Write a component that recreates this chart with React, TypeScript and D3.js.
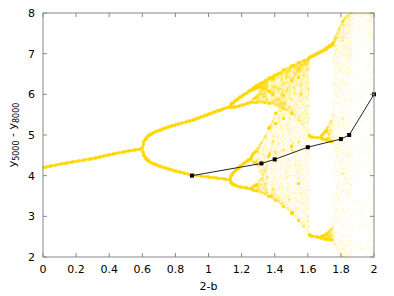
import React, { useMemo } from "react";
import * as d3 from "d3";

const W = 394;
const H = 296;
const PL = 43, PR = 374, PT = 13, PB = 257;

// x axis: 2-b ; y axis: y5000 - y8000
const xTicks = [0, 0.2, 0.4, 0.6, 0.8, 1, 1.2, 1.4, 1.6, 1.8, 2];
const yTicks = [2, 3, 4, 5, 6, 7, 8];

// parameter knots of the iterated map along 2-b
const knotC = [0, 0.3, 0.6, 0.64, 0.9, 1.13, 1.3, 1.61, 1.7, 1.75, 1.8, 1.85, 1.9, 2.0];
const knotR = [2.222, 2.53, 3.0, 3.06, 3.28, 3.449, 3.575, 3.8284, 3.845, 3.857, 3.9, 3.93, 3.97, 4.0];
const knotA = [2.0, 2.0, 2.0, 2.02, 2.08, 1.97, 2.0, 1.175, 1.133, 1.163, 1.045, 1.32, 2.0, 2.0];
const knotB = [4.0, 4.0, 4.0, 4.0, 4.0, 4.39, 4.74, 9.121, 9.649, 9.784, 10.386, 10.34, 9.6, 9.6];
const knotD = [0, 0, 0, 0, 0, 0, 0, -3.278, -3.588, -3.6, -3.6, -3.6, -3.6, -3.6];
// samples kept per parameter column (sparser at the right edge)
const densC = [0, 1.74, 1.76, 1.86, 1.87, 1.965, 1.97, 2.0];
const densN = [100, 100, 55, 55, 10, 10, 28, 28];

// black series
const lineX = [0.9, 1.32, 1.4, 1.6, 1.8, 1.85, 2.0];
const lineY = [4.0, 4.3, 4.4, 4.7, 4.9, 5.0, 6.0];

const FONT = "'DejaVu Sans', sans-serif";

export default function App() {
  const x = d3.scaleLinear().domain([0, 2]).range([PL, PR]);
  const y = d3.scaleLinear().domain([2, 8]).range([PB, PT]);

  const paths = useMemo(() => {
    const rS = d3.scaleLinear().domain(knotC).range(knotR);
    const aS = d3.scaleLinear().domain(knotC).range(knotA);
    const bS = d3.scaleLinear().domain(knotC).range(knotB);
    const dS = d3.scaleLinear().domain(knotC).range(knotD);
    const nS = d3.scaleLinear().domain(densC).range(densN);
    const cols = PR - PL + 1;
    const rows = PB - PT + 1;
    const grid = new Float32Array(cols * rows);
    const NC = 700;
    for (let i = 0; i < NC; i++) {
      const c = ((i + 0.5) / NC) * 2;
      const r = rS(c), a = aS(c), b = bS(c), dd = dS(c);
      let v = 0.3123;
      for (let k = 0; k < 5000; k++) v = r * v * (1 - v);
      const m = Math.round(nS(c));
      const px = Math.floor(x(c)) - PL;
      for (let k = 0; k < m; k++) {
        v = r * v * (1 - v);
        const yy = a + b * v + dd * v * v;
        const py = Math.floor(y(yy)) - PT;
        if (py < 0 || py >= rows || px < 0 || px >= cols) continue;
        grid[py * cols + px] += 1;
      }
    }
    const levels = [0.16, 0.28, 0.45, 0.7, 1];
    const sizes = [1.2, 1.2, 1.4, 1.9, 2.7];
    const bufs: string[][] = levels.map(() => []);
    for (let py = 0; py < rows; py++) {
      for (let px = 0; px < cols; px++) {
        const cnt = grid[py * cols + px];
        if (!cnt) continue;
        const al = 1 - Math.exp(-cnt * 0.15);
        let li = 0;
        let best = 9;
        levels.forEach((l, j) => {
          const dd = Math.abs(l - al);
          if (dd < best) { best = dd; li = j; }
        });
        if (cnt >= 25) li = 4;
        const s = sizes[li];
        const cx = px + PL + 0.5 - s / 2;
        const cy = py + PT + 0.5 - s / 2;
        bufs[li].push(`M${cx.toFixed(2)},${cy.toFixed(2)}h${s}v${s}h${-s}z`);
      }
    }
    return levels.map((l, j) => ({ op: l, d: bufs[j].join("") }));
  }, []);

  const line = d3
    .line<number>()
    .x((_, i) => x(lineX[i]))
    .y((d) => y(d));

  return (
    <svg width={W} height={H} style={{ position: "absolute", left: 0, top: 0, background: "#fff" }}>
      <rect x={0} y={0} width={W} height={H} fill="#fff" />
      <g>
        {paths.map((p, i) => (
          <path key={i} d={p.d} fill="#FFD700" fillOpacity={p.op} />
        ))}
      </g>
      <path d={line(lineY) || ""} fill="none" stroke="#222" strokeWidth={1} />
      {lineY.map((v, i) => (
        <rect key={i} x={x(lineX[i]) - 2} y={y(v) - 2} width={4} height={4} fill="#000" />
      ))}
      {/* border */}
      <rect x={PL} y={PT} width={PR - PL} height={PB - PT} fill="none" stroke="#888" strokeWidth={1} />
      {xTicks.map((t) => (
        <g key={"x" + t}>
          <line x1={x(t)} x2={x(t)} y1={PB} y2={PB - 4} stroke="#888" />
          <line x1={x(t)} x2={x(t)} y1={PT} y2={PT + 4} stroke="#888" />
          <text x={x(t)} y={273} textAnchor="middle" fontFamily={FONT} fontSize={11} fill="#000">
            {t}
          </text>
        </g>
      ))}
      {yTicks.map((t) => (
        <g key={"y" + t}>
          <line x1={PL} x2={PL + 4} y1={y(t)} y2={y(t)} stroke="#888" />
          <line x1={PR} x2={PR - 4} y1={y(t)} y2={y(t)} stroke="#888" />
          <text x={35} y={y(t) + 4} textAnchor="end" fontFamily={FONT} fontSize={11} fill="#000">
            {t}
          </text>
        </g>
      ))}
      <text x={(PL + PR) / 2} y={290} textAnchor="middle" fontFamily={FONT} fontSize={11} fill="#000">
        2-b
      </text>
      <text
        transform={`translate(16,${(PT + PB) / 2}) rotate(-90)`}
        textAnchor="middle"
        fontFamily={FONT}
        fontSize={11}
        fill="#000"
      >
        y<tspan dy={3} fontSize={8}>5000</tspan>
        <tspan dy={-3}> - y</tspan>
        <tspan dy={3} fontSize={8}>8000</tspan>
      </text>
    </svg>
  );
}
